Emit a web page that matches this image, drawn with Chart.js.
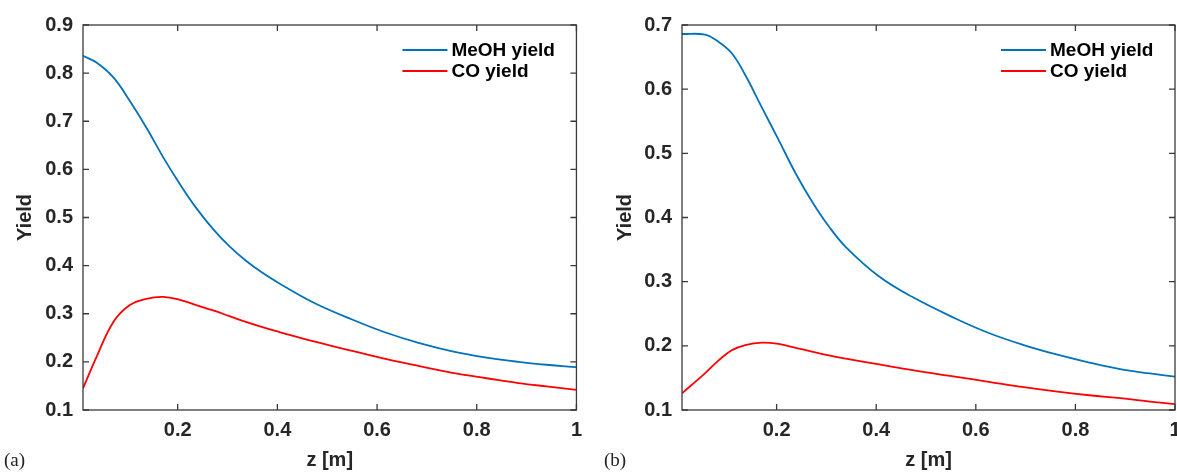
<!DOCTYPE html>
<html lang="en">
<head>
<meta charset="UTF-8" />
<title>MeOH and CO yield</title>
<script src="https://cdn.jsdelivr.net/npm/chart.js"></script>
<style>
  html, body { margin: 0; padding: 0; background: #fff; overflow: hidden; }
  body { width: 1177px; height: 473px; position: relative; }
  canvas { position: absolute; top: 0; }
  #chartA { left: 0; }
  #chartB { left: 590px; }
  .tag { position: absolute; top: 449px; font-family: "Liberation Serif", serif; font-size: 19px; color: #222; }
</style>
</head>
<body>
<canvas id="chartA" width="590" height="473"></canvas>
<canvas id="chartB" width="600" height="473"></canvas>
<div class="tag" style="left:4px">(a)</div>
<div class="tag" style="left:604px">(b)</div>

<script>
// panel (a)
const zA = [0.01, 0.037, 0.071, 0.104, 0.137, 0.171, 0.204, 0.237, 0.271, 0.304, 0.337, 0.37, 0.404, 0.471, 0.55, 0.617, 0.685, 0.751, 0.82, 0.884, 0.94, 1.0];
const meohA = [0.836, 0.822, 0.791, 0.742, 0.687, 0.625, 0.570, 0.520, 0.476, 0.440, 0.410, 0.385, 0.363, 0.324, 0.288, 0.261, 0.239, 0.222, 0.209, 0.200, 0.194, 0.189];
const coA = [0.145, 0.210, 0.283, 0.318, 0.331, 0.335, 0.329, 0.318, 0.307, 0.295, 0.283, 0.272, 0.262, 0.243, 0.223, 0.206, 0.191, 0.177, 0.166, 0.156, 0.149, 0.142];

// panel (b)
const zB = [0.01, 0.056, 0.083, 0.110, 0.137, 0.170, 0.204, 0.238, 0.271, 0.305, 0.339, 0.406, 0.473, 0.558, 0.626, 0.693, 0.760, 0.828, 0.895, 0.95, 1.0];
const meohB = [0.686, 0.685, 0.674, 0.656, 0.622, 0.572, 0.521, 0.469, 0.425, 0.386, 0.354, 0.308, 0.276, 0.243, 0.220, 0.202, 0.187, 0.174, 0.163, 0.157, 0.152];
const coB = [0.126, 0.157, 0.177, 0.193, 0.201, 0.205, 0.203, 0.197, 0.191, 0.185, 0.180, 0.171, 0.162, 0.152, 0.144, 0.136, 0.129, 0.123, 0.118, 0.113, 0.109];

const seriesNames = ["MeOH yield", "CO yield"];
const seriesColors = ["#0072BD", "#FF0000"];
const xTicks = [0.2, 0.4, 0.6, 0.8, 1];
const yTicksA = [0.1, 0.2, 0.3, 0.4, 0.5, 0.6, 0.7, 0.8, 0.9];
const yTicksB = [0.1, 0.2, 0.3, 0.4, 0.5, 0.6, 0.7];

const tickFont = { family: "'Liberation Sans', Arial, sans-serif", size: 20, weight: "bold" };
const axisColor = "#3a3a3a";

// box round the plot, inward ticks on all four sides, legend in the corner
const framePlugin = {
  id: "frame",
  afterDatasetsDraw(chart) {
    const { ctx, chartArea: a, scales: { x, y } } = chart;
    ctx.save();
    ctx.strokeStyle = axisColor;
    ctx.lineWidth = 1.3;
    ctx.strokeRect(a.left, a.top, a.right - a.left, a.bottom - a.top);
    ctx.beginPath();
    x.ticks.forEach((t) => {
      const px = x.getPixelForValue(t.value);
      ctx.moveTo(px, a.bottom); ctx.lineTo(px, a.bottom - 6);
      ctx.moveTo(px, a.top); ctx.lineTo(px, a.top + 6);
    });
    y.ticks.forEach((t) => {
      const py = y.getPixelForValue(t.value);
      ctx.moveTo(a.left, py); ctx.lineTo(a.left + 6, py);
      ctx.moveTo(a.right, py); ctx.lineTo(a.right - 6, py);
    });
    ctx.stroke();

    ctx.font = "bold 19px 'Liberation Sans', Arial, sans-serif";
    ctx.fillStyle = "#000";
    ctx.textBaseline = "middle";
    chart.data.datasets.forEach((ds, i) => {
      const ly = a.top + 25 + i * 21;
      ctx.strokeStyle = ds.borderColor;
      ctx.lineWidth = 2;
      ctx.beginPath();
      ctx.moveTo(a.right - 174, ly);
      ctx.lineTo(a.right - 129, ly);
      ctx.stroke();
      ctx.fillText(ds.label, a.right - 125, ly + 1);
    });
    ctx.restore();
  },
};

function makeChart(id, z, meoh, co, yTicks, yMax, axisWidth, titlePad, rightPad) {
  const series = [meoh, co];
  new Chart(document.getElementById(id), {
    type: "line",
    data: {
      datasets: series.map((vals, k) => ({
        label: seriesNames[k],
        data: z.map((zv, i) => ({ x: zv, y: vals[i] })),
        borderColor: seriesColors[k],
        borderWidth: 1.8,
        pointRadius: 0,
        fill: false,
        tension: 0.4,
      })),
    },
    options: {
      responsive: false,
      animation: false,
      layout: { padding: { top: 25, right: rightPad, bottom: 0, left: 0 } },
      plugins: { legend: { display: false }, tooltip: { enabled: false } },
      scales: {
        x: {
          type: "linear",
          min: 0.01,
          max: 1,
          afterBuildTicks: (s) => { s.ticks = xTicks.map((v) => ({ value: v })); },
          afterFit: (s) => { s.height = 63; },
          grid: { display: false, drawTicks: false },
          border: { display: false },
          ticks: { font: tickFont, color: "#262626", padding: 8, maxRotation: 0, callback: (v) => String(v) },
          title: { display: true, text: "z [m]", font: tickFont, color: "#262626", padding: { top: 0, bottom: 1 } },
        },
        y: {
          min: 0.1,
          max: yMax,
          afterBuildTicks: (s) => { s.ticks = yTicks.map((v) => ({ value: v })); },
          afterFit: (s) => { s.width = axisWidth; },
          grid: { display: false, drawTicks: false },
          border: { display: false },
          ticks: { font: tickFont, color: "#262626", padding: 10, callback: (v) => String(v) },
          title: { display: true, text: "Yield", font: tickFont, color: "#262626", padding: { top: titlePad, bottom: 0 } },
        },
      },
    },
    plugins: [framePlugin],
  });
}

makeChart("chartA", zA, meohA, coA, yTicksA, 0.9, 83, 13, 13);
makeChart("chartB", zB, meohB, coB, yTicksB, 0.7, 92, 23, 15);
</script>
</body>
</html>
